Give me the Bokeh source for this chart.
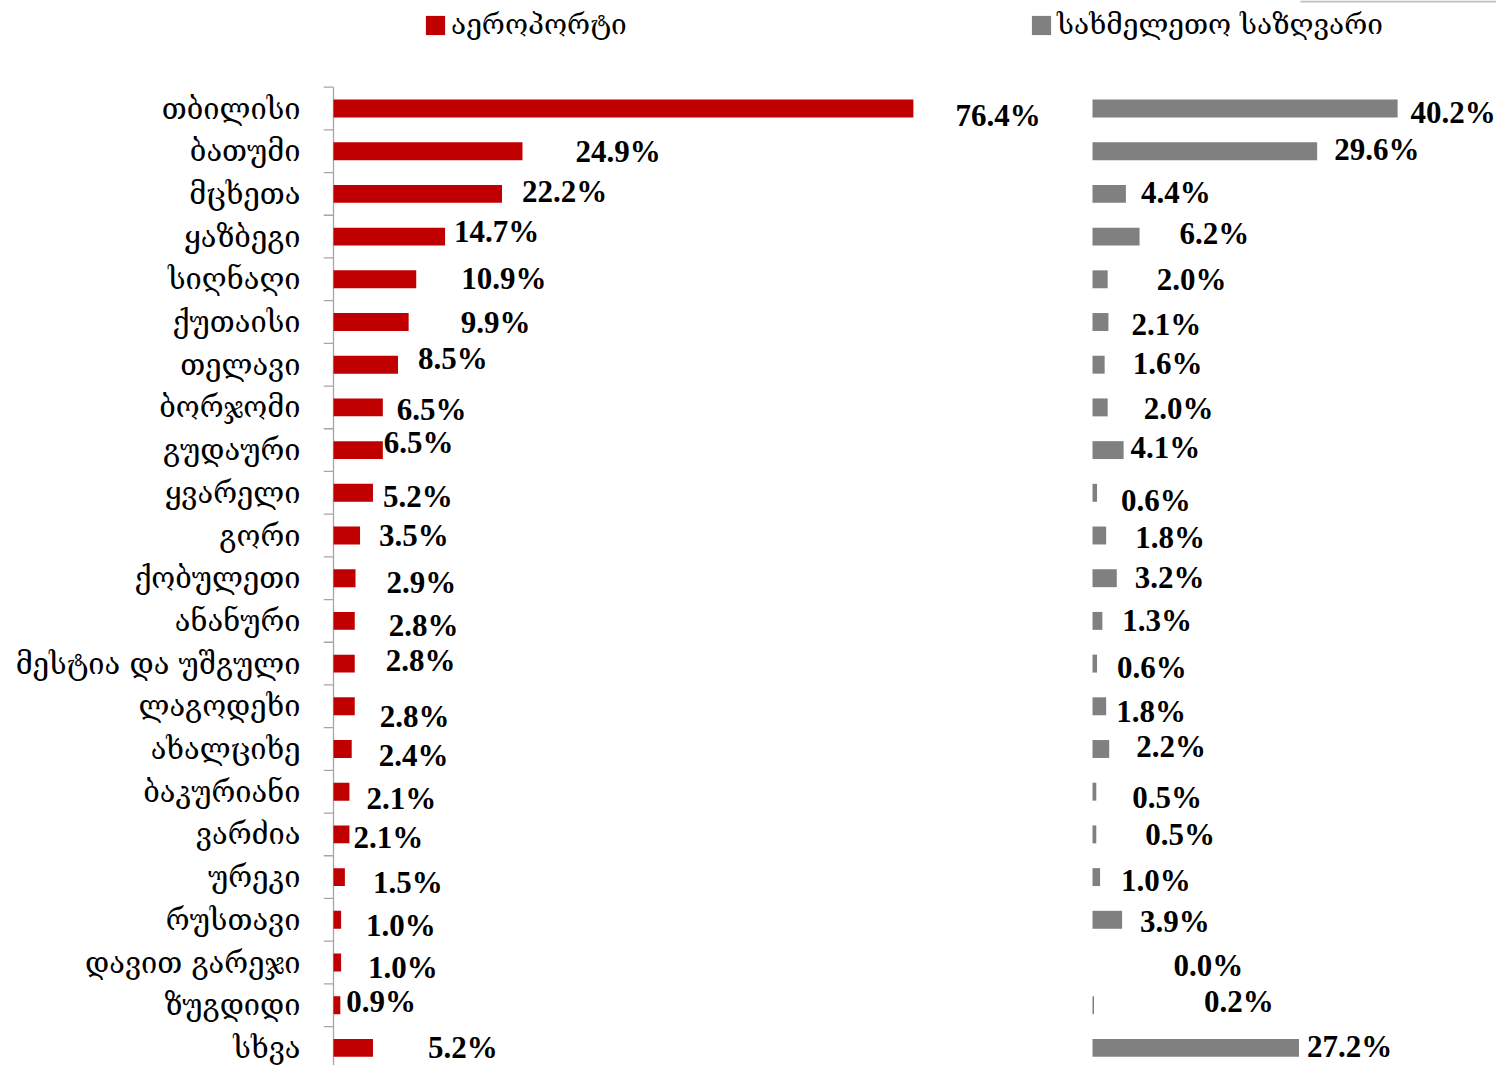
from bokeh.plotting import figure
from bokeh.models import Range1d, FixedTicker, Legend, LegendItem, ColumnDataSource
from bokeh.embed import file_html
from bokeh.resources import INLINE
from bokeh.core.properties import value

categories = ["თბილისი", "ბათუმი", "მცხეთა", "ყაზბეგი", "სიღნაღი", "ქუთაისი",
              "თელავი", "ბორჯომი", "გუდაური", "ყვარელი", "გორი", "ქობულეთი",
              "ანანური", "მესტია და უშგული", "ლაგოდეხი", "ახალციხე", "ბაკურიანი",
              "ვარძია", "ურეკი", "რუსთავი", "დავით გარეჯი", "ზუგდიდი", "სხვა"]
airport = [76.4, 24.9, 22.2, 14.7, 10.9, 9.9, 8.5, 6.5, 6.5, 5.2, 3.5, 2.9,
           2.8, 2.8, 2.8, 2.4, 2.1, 2.1, 1.5, 1.0, 1.0, 0.9, 5.2]
land_border = [40.2, 29.6, 4.4, 6.2, 2.0, 2.1, 1.6, 2.0, 4.1, 0.6, 1.8, 3.2,
               1.3, 0.6, 1.8, 2.2, 0.5, 0.5, 1.0, 3.9, 0.0, 0.2, 27.2]
series_names = ["აეროპორტი", "სახმელეთო საზღვარი"]

# label placement (pixels, relative to bar end / bar centre)
airport_dx = [42, 53, 20, 9, 45, 52, 20, 14, 1, 10, 19, 31, 34, 31, 25, 27, 17, 4, 28, 25, 27, 6, 55]
airport_dy = [7, 0, -2, -5, -1, 0, -6, 2, -8, 4, 0, 4, 5, -3, 10, 6, 7, 3, 5, 6, 5, -4, 0]
land_dx = [13, 17, 15, 40, 49, 23, 28, 36, 7, 24, 29, 18, 20, 20, 10, 27, 36, 49, 21, 18, 81, 110, 8]
land_dy = [4, -2, -1, -3, 0, 2, -1, 1, -3, 8, 2, -1, 0, 4, 5, -3, 6, 0, 3, 2, 3, -4, -1]

RED = "#C00000"
GRAY = "#808080"
ROW_PX = 42.7
PX_PER_PCT = 7.59
GEO_FONT = "DejaVu Serif"
NUM_FONT = "Liberation Serif"

W, H = 1496, 1065
LEFT = 323
frame_w = W - LEFT
n = len(categories)
idx = list(range(n))

# left panel: 0 at 10px right of frame left; right panel: 0 at 769px right of frame left
x0_left = -10 / PX_PER_PCT
x0_right = -769 / PX_PER_PCT
y_top = -108 / ROW_PX
y_bot = (H - 108) / ROW_PX

p = figure(width=W, height=H, output_backend="svg", toolbar_location=None,
           x_range=Range1d(x0_left, x0_left + frame_w / PX_PER_PCT),
           y_range=Range1d(y_bot, y_top),
           x_axis_location=None, min_border_left=LEFT, min_border_right=0,
           min_border_top=0, min_border_bottom=0)
p.extra_x_ranges = {"right": Range1d(x0_right, x0_right + frame_w / PX_PER_PCT)}
p.outline_line_color = None
p.xgrid.visible = False
p.ygrid.visible = False

ax = p.yaxis[0]
ax.ticker = FixedTicker(ticks=idx)
ax.major_label_overrides = {i: c for i, c in enumerate(categories)}
ax.axis_line_color = None
ax.major_tick_line_color = None
ax.minor_tick_line_color = None
ax.major_tick_out = 0
ax.major_tick_in = 0
ax.major_label_standoff = 23
ax.major_label_text_font = GEO_FONT
ax.major_label_text_font_size = "29px"
ax.major_label_text_color = "#000000"

# axis line and boundary ticks of the left panel
bounds = [i - 0.5 for i in range(n + 1)]
p.segment(x0=[x0_left] * len(bounds), y0=bounds, x1=[0] * len(bounds), y1=bounds,
          line_color="#A6A6A6", line_width=1.3)
p.segment(x0=[0], y0=[-0.5], x1=[0], y1=[y_bot], line_color="#A6A6A6", line_width=1.3)
# thin frame remnant at top right
p.segment(x0=[(1300 - 1092) / PX_PER_PCT], y0=[y_top + 1 / ROW_PX],
          x1=[x0_right + frame_w / PX_PER_PCT], y1=[y_top + 1 / ROW_PX],
          line_color="#BFBFBF", line_width=2, x_range_name="right")

src = ColumnDataSource(dict(
    y=idx, airport=airport, land=land_border,
    a_lab=[f"{v:.1f}%" for v in airport], l_lab=[f"{v:.1f}%" for v in land_border],
    a_dx=airport_dx, l_dx=land_dx,
    a_y=[i + d / ROW_PX for i, d in zip(idx, airport_dy)],
    l_y=[i + d / ROW_PX for i, d in zip(idx, land_dy)],
))

r1 = p.hbar(y="y", left=0, right="airport", height=0.42, source=src,
            fill_color=RED, line_color=None)
r2 = p.hbar(y="y", left=0, right="land", height=0.42, source=src,
            fill_color=GRAY, line_color=None, x_range_name="right")

p.text(x="airport", y="a_y", text="a_lab", x_offset="a_dx", source=src,
       text_baseline="middle", text_align="left", text_font=value(NUM_FONT),
       text_font_style="bold", text_font_size="31px", text_color="#000000")
p.text(x="land", y="l_y", text="l_lab", x_offset="l_dx", source=src,
       text_baseline="middle", text_align="left", text_font=value(NUM_FONT),
       text_font_style="bold", text_font_size="31px", text_color="#000000",
       x_range_name="right")

for r, name, loc in [(r1, series_names[0], (100, H - 41)), (r2, series_names[1], (706, H - 41))]:
    lg = Legend(items=[LegendItem(label=name, renderers=[r])], location=loc,
                orientation="horizontal", background_fill_alpha=0,
                border_line_alpha=0, padding=0, margin=0, spacing=0,
                glyph_width=24, glyph_height=24, label_standoff=4,
                label_text_font=GEO_FONT, label_text_font_size="28px",
                label_text_color="#000000")
    p.add_layout(lg)

open("out.html", "w").write(file_html(p, INLINE))
